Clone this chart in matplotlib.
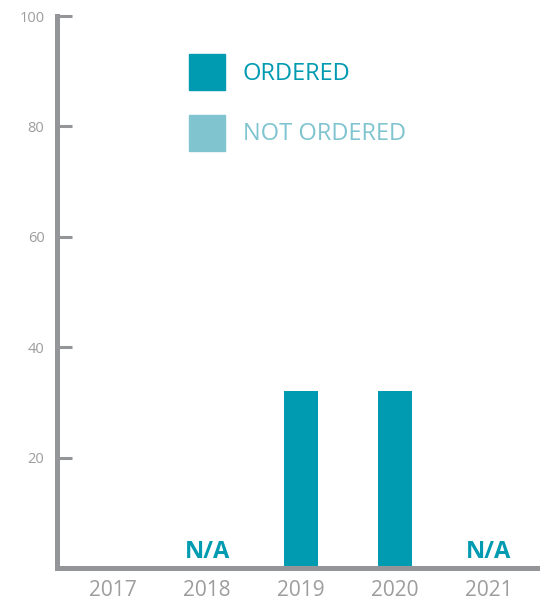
import matplotlib.pyplot as plt
from matplotlib.patches import Patch

years = ['2017', '2018', '2019', '2020', '2021']
ordered = [0, 0, 32, 32, 0]
na_years = ['2018', '2021']
y_ticks = [20, 40, 60, 80, 100]

teal = '#009bb0'
light = '#80c4d0'
grey = '#939598'
label_grey = '#9d9d9d'

plt.rcParams['font.family'] = ['Open Sans', 'DejaVu Sans']

fig = plt.figure(figsize=(5.4, 6.02), dpi=100)
ax = fig.add_axes([57 / 540, 1 - 568 / 602, 1 - 57 / 540, (568 - 16) / 602])

x = list(range(len(years)))
ax.bar(x, ordered, width=0.36, color=teal, zorder=2)

for y in na_years:
    ax.annotate('N/A', xy=(years.index(y), 0), xytext=(0, 3), textcoords='offset points',
                ha='center', va='bottom', fontsize=17, fontweight='bold', color=teal)

ax.set_xlim(-0.6, 4.55)
ax.set_ylim(0, 100)
ax.set_xticks(x)
ax.set_xticklabels(years)
ax.set_yticks(y_ticks)
ax.tick_params(axis='x', length=0, pad=9, labelsize=15, labelcolor=label_grey)
ax.tick_params(axis='y', direction='in', length=11, width=2.2, color=grey,
               pad=9, labelsize=10.5, labelcolor=label_grey)

for s in ['top', 'right']:
    ax.spines[s].set_visible(False)
for s in ['left', 'bottom']:
    ax.spines[s].set_color(grey)
    ax.spines[s].set_linewidth(3.6)
    ax.spines[s].set_zorder(3)
ax.spines['left'].set_capstyle('projecting')

# legend: square swatches, coloured labels
handles = [Patch(color=teal), Patch(color=light)]
leg = fig.legend(handles, ['ORDERED', 'NOT ORDERED'], loc='upper left',
                 bbox_to_anchor=(189 / 540, 1 - 54 / 602), bbox_transform=fig.transFigure,
                 frameon=False, fontsize=17, borderpad=0, borderaxespad=0,
                 handlelength=1.525, handleheight=1.97, labelspacing=1.04, handletextpad=0.76)
for t, c in zip(leg.get_texts(), [teal, light]):
    t.set_color(c)

fig.savefig('out.png', dpi=100)
